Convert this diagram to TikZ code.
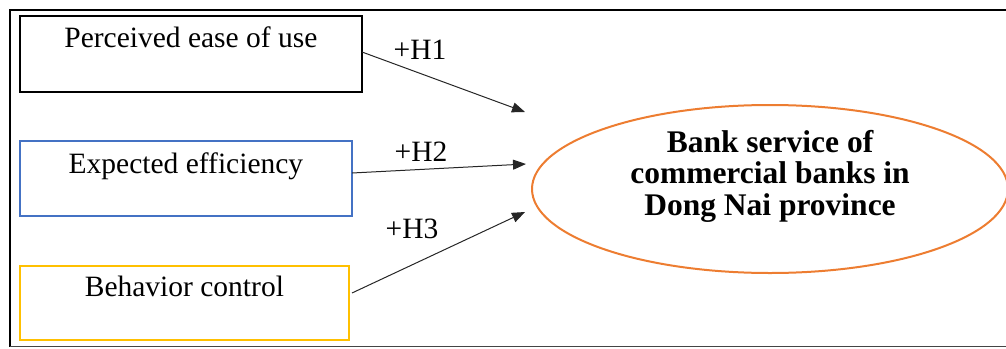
\documentclass[tikz,border=0pt]{standalone}
\usepackage{fontspec}
\setmainfont{Liberation Serif}
\usetikzlibrary{arrows.meta,calc}
\definecolor{boxblue}{HTML}{4472C4}
\definecolor{boxyellow}{HTML}{FFC000}
\definecolor{ellorange}{HTML}{ED7D31}
\definecolor{framegrey}{HTML}{444444}
\tikzset{
  fbox/.style={draw, line width=1.8pt, inner sep=0pt, anchor=north west},
  btext/.style={anchor=base, inner sep=0pt, font=\fontsize{29.5}{31.5}\selectfont},
  hlab/.style={anchor=base, inner sep=0pt, font=\fontsize{29.5}{31.5}\selectfont},
  conn/.style={draw=black!85, line width=1pt, -{Triangle[length=13pt,width=10pt]}},
}
\begin{document}
\begin{tikzpicture}[x=1pt,y=-1pt]
\useasboundingbox (0,0) rectangle (1006,348);
% frame
\draw[line width=2.6pt] (1006,10) -- (10,10) -- (10,347);
\draw[framegrey, line width=1.6pt] (10,346.5) -- (1006,346.5);
% boxes
\node[fbox, draw=black, minimum width=342pt, minimum height=76pt] (b1) at (19,15) {};
\node[fbox, draw=boxblue, minimum width=332pt, minimum height=75pt] (b2) at (19,140) {};
\node[fbox, draw=boxyellow, minimum width=329pt, minimum height=74pt] (b3) at (19,265) {};
\node[btext] (t1) at ($(b1.north)+(0,32)$) {Perceived ease of use};
\node[btext] (t2) at ($(b2.north)+(0,33)$) {Expected efficiency};
\node[btext] (t3) at ($(b3.north)+(0,31)$) {Behavior control};
% ellipse
\draw[ellorange, line width=2pt] (770,189) ellipse [x radius=238pt, y radius=84pt];
\coordinate (ell) at (770,189);
\node[anchor=base, inner sep=0pt, font=\fontsize{31.5}{31.5}\bfseries] (e1) at (770,152) {Bank service of};
\node[anchor=base, inner sep=0pt, font=\fontsize{31.5}{31.5}\bfseries] (e2) at (770,183.5) {commercial banks in};
\node[anchor=base, inner sep=0pt, font=\fontsize{31.5}{31.5}\bfseries] (e3) at (770,215) {Dong Nai province};
% connectors
\coordinate (s1) at (362,52);
\coordinate (s2) at (352,173);
\coordinate (s3) at (352,293);
\coordinate (tip1) at (525,112);
\coordinate (tip2) at (526,164);
\coordinate (tip3) at (525,212);
\draw[conn] (s1) -- (tip1);
\draw[conn] (s2) -- (tip2);
\draw[conn] (s3) -- (tip3);
\node[hlab] (h1) at (420,59) {+H1};
\node[hlab] (h2) at (421,161) {+H2};
\node[hlab] (h3) at (412,238) {+H3};
\end{tikzpicture}
\end{document}
